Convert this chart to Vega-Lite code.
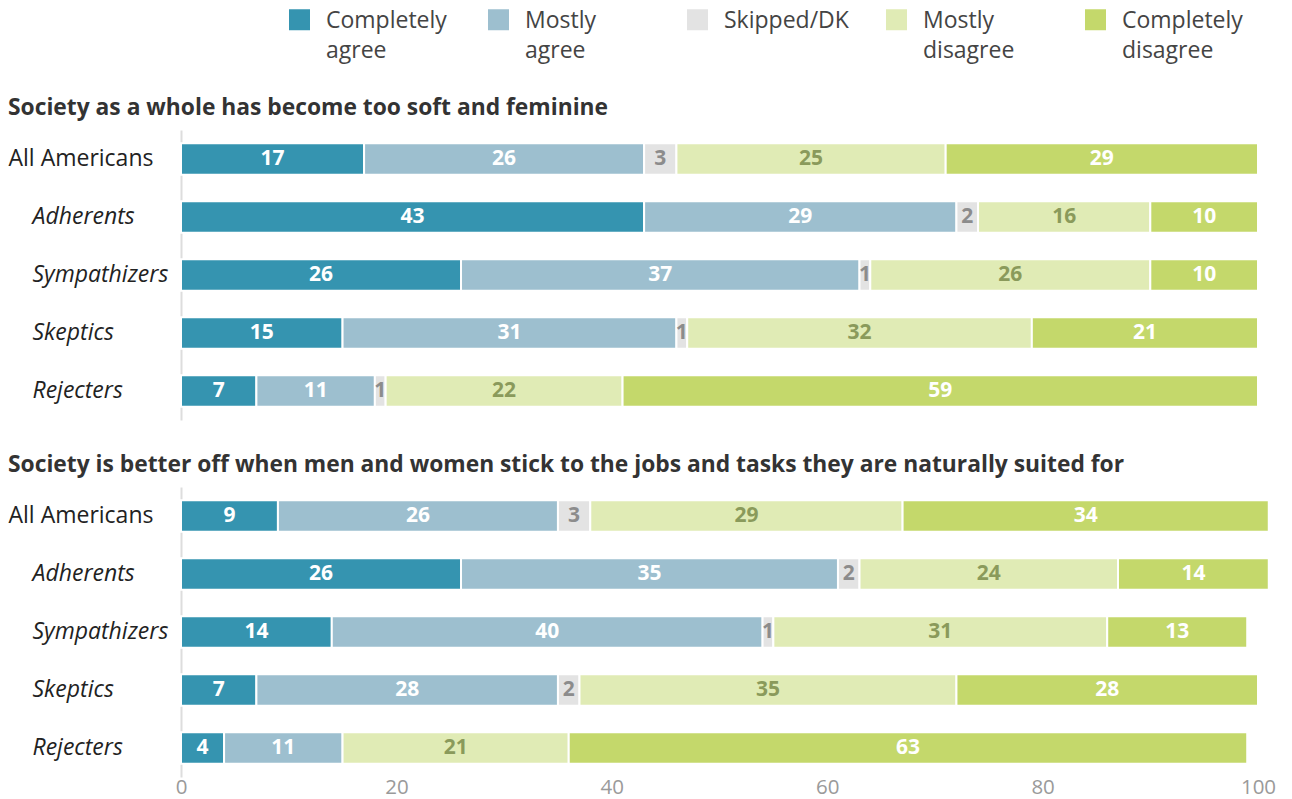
{
  "$schema": "https://vega.github.io/schema/vega-lite/v6.json",
  "padding": {"left": 8, "top": 8, "right": 10, "bottom": 2},
  "background": "white",
  "datasets": {
    "rows": [
      {"q": "soft", "g": "All Americans", "r": "Completely agree", "k": 1, "v": 17},
      {"q": "soft", "g": "All Americans", "r": "Mostly agree", "k": 2, "v": 26},
      {"q": "soft", "g": "All Americans", "r": "Skipped/DK", "k": 3, "v": 3},
      {"q": "soft", "g": "All Americans", "r": "Mostly disagree", "k": 4, "v": 25},
      {"q": "soft", "g": "All Americans", "r": "Completely disagree", "k": 5, "v": 29},
      {"q": "soft", "g": "Adherents", "r": "Completely agree", "k": 1, "v": 43},
      {"q": "soft", "g": "Adherents", "r": "Mostly agree", "k": 2, "v": 29},
      {"q": "soft", "g": "Adherents", "r": "Skipped/DK", "k": 3, "v": 2},
      {"q": "soft", "g": "Adherents", "r": "Mostly disagree", "k": 4, "v": 16},
      {"q": "soft", "g": "Adherents", "r": "Completely disagree", "k": 5, "v": 10},
      {"q": "soft", "g": "Sympathizers", "r": "Completely agree", "k": 1, "v": 26},
      {"q": "soft", "g": "Sympathizers", "r": "Mostly agree", "k": 2, "v": 37},
      {"q": "soft", "g": "Sympathizers", "r": "Skipped/DK", "k": 3, "v": 1},
      {"q": "soft", "g": "Sympathizers", "r": "Mostly disagree", "k": 4, "v": 26},
      {"q": "soft", "g": "Sympathizers", "r": "Completely disagree", "k": 5, "v": 10},
      {"q": "soft", "g": "Skeptics", "r": "Completely agree", "k": 1, "v": 15},
      {"q": "soft", "g": "Skeptics", "r": "Mostly agree", "k": 2, "v": 31},
      {"q": "soft", "g": "Skeptics", "r": "Skipped/DK", "k": 3, "v": 1},
      {"q": "soft", "g": "Skeptics", "r": "Mostly disagree", "k": 4, "v": 32},
      {"q": "soft", "g": "Skeptics", "r": "Completely disagree", "k": 5, "v": 21},
      {"q": "soft", "g": "Rejecters", "r": "Completely agree", "k": 1, "v": 7},
      {"q": "soft", "g": "Rejecters", "r": "Mostly agree", "k": 2, "v": 11},
      {"q": "soft", "g": "Rejecters", "r": "Skipped/DK", "k": 3, "v": 1},
      {"q": "soft", "g": "Rejecters", "r": "Mostly disagree", "k": 4, "v": 22},
      {"q": "soft", "g": "Rejecters", "r": "Completely disagree", "k": 5, "v": 59},
      {"q": "jobs", "g": "All Americans", "r": "Completely agree", "k": 1, "v": 9},
      {"q": "jobs", "g": "All Americans", "r": "Mostly agree", "k": 2, "v": 26},
      {"q": "jobs", "g": "All Americans", "r": "Skipped/DK", "k": 3, "v": 3},
      {"q": "jobs", "g": "All Americans", "r": "Mostly disagree", "k": 4, "v": 29},
      {"q": "jobs", "g": "All Americans", "r": "Completely disagree", "k": 5, "v": 34},
      {"q": "jobs", "g": "Adherents", "r": "Completely agree", "k": 1, "v": 26},
      {"q": "jobs", "g": "Adherents", "r": "Mostly agree", "k": 2, "v": 35},
      {"q": "jobs", "g": "Adherents", "r": "Skipped/DK", "k": 3, "v": 2},
      {"q": "jobs", "g": "Adherents", "r": "Mostly disagree", "k": 4, "v": 24},
      {"q": "jobs", "g": "Adherents", "r": "Completely disagree", "k": 5, "v": 14},
      {"q": "jobs", "g": "Sympathizers", "r": "Completely agree", "k": 1, "v": 14},
      {"q": "jobs", "g": "Sympathizers", "r": "Mostly agree", "k": 2, "v": 40},
      {"q": "jobs", "g": "Sympathizers", "r": "Skipped/DK", "k": 3, "v": 1},
      {"q": "jobs", "g": "Sympathizers", "r": "Mostly disagree", "k": 4, "v": 31},
      {"q": "jobs", "g": "Sympathizers", "r": "Completely disagree", "k": 5, "v": 13},
      {"q": "jobs", "g": "Skeptics", "r": "Completely agree", "k": 1, "v": 7},
      {"q": "jobs", "g": "Skeptics", "r": "Mostly agree", "k": 2, "v": 28},
      {"q": "jobs", "g": "Skeptics", "r": "Skipped/DK", "k": 3, "v": 2},
      {"q": "jobs", "g": "Skeptics", "r": "Mostly disagree", "k": 4, "v": 35},
      {"q": "jobs", "g": "Skeptics", "r": "Completely disagree", "k": 5, "v": 28},
      {"q": "jobs", "g": "Rejecters", "r": "Completely agree", "k": 1, "v": 4},
      {"q": "jobs", "g": "Rejecters", "r": "Mostly agree", "k": 2, "v": 11},
      {"q": "jobs", "g": "Rejecters", "r": "Mostly disagree", "k": 4, "v": 21},
      {"q": "jobs", "g": "Rejecters", "r": "Completely disagree", "k": 5, "v": 63}
    ]
  },
  "data": {"name": "rows"},
  "spacing": 34,
  "vconcat": [
    {
      "title": {"text": "Society as a whole has become too soft and feminine", "anchor": "start", "frame": "bounds"},
      "width": 1077,
      "height": 290,
      "transform": [{"filter": "datum.q === 'soft'"}],
      "encoding": {
        "y": {"field": "g", "type": "nominal", "sort": ["All Americans", "Adherents", "Sympathizers", "Skeptics", "Rejecters"],
              "scale": {"paddingInner": 0.46, "paddingOuter": 0.23}},
        "x": {"field": "v", "type": "quantitative", "stack": "zero", "scale": {"domain": [0, 100], "nice": false}, "axis": null},
        "order": {"field": "k", "type": "quantitative"}
      },
      "layer": [
        {"mark": {"type": "bar", "stroke": "white", "strokeWidth": 2},
         "encoding": {"color": {"field": "r", "type": "nominal",
           "scale": {"domain": ["Completely agree", "Mostly agree", "Skipped/DK", "Mostly disagree", "Completely disagree"],
                     "range": ["#3594b0", "#9dbfcf", "#e3e3e3", "#e0ebb5", "#c4d86b"]},
           "legend": {
             "orient": "none", "legendX": 107, "legendY": -122, "direction": "horizontal", "columns": 5,
             "gridAlign": "all", "columnPadding": 36, "symbolType": "square", "symbolSize": 441, "symbolStrokeWidth": 0,
             "labelFontSize": 23, "labelColor": "#444444", "labelBaseline": "top", "labelOffset": 15, "labelLimit": 300,
             "labelExpr": "datum.label === 'Skipped/DK' ? ['Skipped/DK', ' '] : split(datum.label, ' ')",
             "title": null
           }}}},
        {"mark": {"type": "text", "fontWeight": "bold", "fontSize": 21, "baseline": "middle", "align": "center"},
         "encoding": {
           "x": {"field": "v", "type": "quantitative", "stack": "zero", "bandPosition": 0.5},
           "text": {"field": "v", "type": "quantitative"},
           "color": {"condition": [{"test": "datum.r === 'Skipped/DK'", "value": "#8c8c8c"}, {"test": "datum.r === 'Mostly disagree'", "value": "#8a9a5b"}], "value": "white"}
         }}
      ]
    },
    {
      "title": {"text": "Society is better off when men and women stick to the jobs and tasks they are naturally suited for", "anchor": "start", "frame": "bounds"},
      "width": 1077,
      "height": 290,
      "transform": [{"filter": "datum.q === 'jobs'"}],
      "encoding": {
        "y": {"field": "g", "type": "nominal", "sort": ["All Americans", "Adherents", "Sympathizers", "Skeptics", "Rejecters"],
              "scale": {"paddingInner": 0.46, "paddingOuter": 0.23}},
        "x": {"field": "v", "type": "quantitative", "stack": "zero", "scale": {"domain": [0, 100], "nice": false},
              "axis": {"values": [0, 20, 40, 60, 80, 100], "domain": false, "ticks": false, "grid": false, "labelFlush": false,
                       "labelFontSize": 20.5, "labelColor": "#9a9a9a", "labelPadding": 10, "title": null}},
        "order": {"field": "k", "type": "quantitative"}
      },
      "layer": [
        {"mark": {"type": "bar", "stroke": "white", "strokeWidth": 2},
         "encoding": {"color": {"field": "r", "type": "nominal",
           "scale": {"domain": ["Completely agree", "Mostly agree", "Skipped/DK", "Mostly disagree", "Completely disagree"],
                     "range": ["#3594b0", "#9dbfcf", "#e3e3e3", "#e0ebb5", "#c4d86b"]},
           "legend": null}}},
        {"mark": {"type": "text", "fontWeight": "bold", "fontSize": 21, "baseline": "middle", "align": "center"},
         "encoding": {
           "x": {"field": "v", "type": "quantitative", "stack": "zero", "bandPosition": 0.5},
           "text": {"field": "v", "type": "quantitative"},
           "color": {"condition": [{"test": "datum.r === 'Skipped/DK'", "value": "#8c8c8c"}, {"test": "datum.r === 'Mostly disagree'", "value": "#8a9a5b"}], "value": "white"}
         }}
      ]
    }
  ],
  "resolve": {"scale": {"color": "shared"}},
  "config": {
    "font": "Open Sans",
    "view": {"stroke": null},
    "title": {"fontSize": 22.8, "fontWeight": "bold", "color": "#333333", "offset": 10},
    "axisY": {
      "title": null, "ticks": false, "grid": false,
      "domainColor": "#dddddd", "domainWidth": 2,
      "labelFontSize": 23, "labelColor": "#222222", "labelAlign": "left", "labelOffset": 10,
      "labelFontStyle": {"condition": {"test": "datum.value === 'All Americans'", "value": "normal"}, "value": "italic"},
      "labelPadding": {"condition": {"test": "datum.value === 'All Americans'", "value": 173}, "value": 149}
    },
    "style": {"guide-label": {"lineHeight": 30, "dy": -10}}
  },
  "encoding": {}
}
